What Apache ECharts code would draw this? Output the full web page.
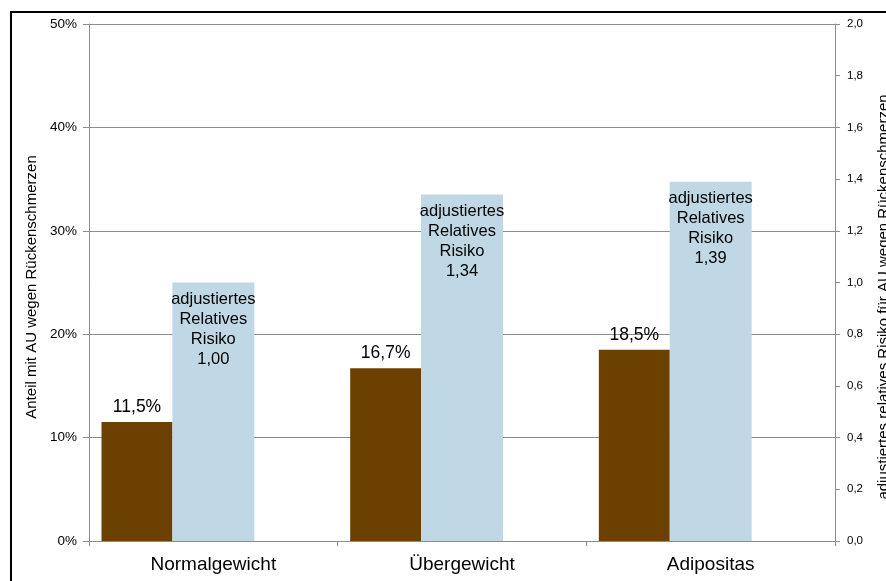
<!DOCTYPE html>
<html>
<head>
<meta charset="utf-8">
<script src="https://cdn.jsdelivr.net/npm/echarts@6/dist/echarts.min.js"></script>
<style>
  html, body { margin: 0; padding: 0; background: #fff; overflow: hidden; }
  .frame {
    position: absolute; left: 10px; top: 11px;
    width: 900px; height: 600px;
    border: 2px solid #000;
  }
  #main { position: absolute; left: 0; top: 0; width: 886px; height: 581px; }
</style>
</head>
<body>
<div class="frame"></div>
<div id="main"></div>
<script>
var categories = ["Normalgewicht", "Übergewicht", "Adipositas"];
var anteil = [11.5, 16.7, 18.5];        // Anteil mit AU wegen Rückenschmerzen, %
var risiko = [1.0, 1.34, 1.39];         // adjustiertes relatives Risiko
var leftTicks = { min: 0, max: 50, interval: 10 };
var rightTicks = { min: 0, max: 2, interval: 0.2 };

var font = "'Liberation Sans', Arial, sans-serif";
var gray = "#8c8c8c";

function komma(v, d) {
  return v.toFixed(d).replace(".", ",");
}

var myChart = echarts.init(document.getElementById("main"));

var option = {
  animation: false,
  textStyle: { fontFamily: font },
  grid: { left: 89, right: 51, top: 24, bottom: 40, containLabel: false, outerBoundsMode: "none" },
  xAxis: [
    {
      type: "category",
      data: categories,
      axisLine: { lineStyle: { color: gray, width: 1 } },
      axisTick: { show: true, length: 5, lineStyle: { color: gray } },
      axisLabel: { color: "#000", fontSize: 19, margin: 14, fontFamily: font }
    },
    {
      type: "category",
      data: categories,
      show: false
    }
  ],
  yAxis: [
    {
      type: "value",
      min: leftTicks.min,
      max: leftTicks.max,
      interval: leftTicks.interval,
      name: "Anteil mit AU wegen Rückenschmerzen",
      nameLocation: "middle",
      nameRotate: 90,
      nameGap: 50,
      nameTextStyle: { color: "#000", fontSize: 15, fontFamily: font, padding: [0, 9, 0, 0] },
      axisLine: { show: true, lineStyle: { color: gray } },
      axisTick: { show: true, length: 6, lineStyle: { color: gray } },
      splitLine: { show: true, lineStyle: { color: gray, width: 1 } },
      axisLabel: {
        color: "#000", fontSize: 13.5, margin: 12, fontFamily: font,
        formatter: function (v) { return v + "%"; }
      }
    },
    {
      type: "value",
      position: "right",
      min: rightTicks.min,
      max: rightTicks.max,
      interval: rightTicks.interval,
      name: "adjustiertes relatives Risiko für AU wegen Rückenschmerzen",
      nameLocation: "middle",
      nameRotate: 90,
      nameGap: 41,
      nameTextStyle: { color: "#000", fontSize: 15, fontFamily: font, padding: [0, 29, 0, 0] },
      axisLine: { show: true, lineStyle: { color: gray } },
      axisTick: { show: true, length: 5, lineStyle: { color: gray } },
      splitLine: { show: false },
      axisLabel: {
        color: "#000", fontSize: 11.5, margin: 12, fontFamily: font,
        formatter: function (v) { return komma(v, 1); }
      }
    }
  ],
  series: [
    {
      name: "Anteil",
      type: "bar",
      xAxisIndex: 0,
      yAxisIndex: 0,
      data: anteil,
      barWidth: 71,
      barGap: "115%",
      itemStyle: { color: "#6b4000" },
      label: {
        show: true,
        position: "top",
        distance: 6,
        color: "#000",
        fontSize: 17.5,
        fontFamily: font,
        formatter: function (p) { return komma(p.value, 1) + "%"; }
      }
    },
    {
      // leerer Platzhalter, damit die braunen Balken links sitzen
      name: "platz",
      type: "bar",
      xAxisIndex: 0,
      yAxisIndex: 0,
      data: ["-", "-", "-"],
      barWidth: 71
    },
    {
      name: "Risiko",
      type: "bar",
      xAxisIndex: 1,
      yAxisIndex: 1,
      data: risiko,
      barWidth: 82,
      itemStyle: { color: "#c0d8e5" },
      label: {
        show: true,
        position: "insideTop",
        distance: 7,
        color: "#000",
        fontSize: 16.5,
        lineHeight: 20,
        fontFamily: font,
        align: "center",
        formatter: function (p) {
          return "adjustiertes\nRelatives\nRisiko\n" + komma(p.value, 2);
        }
      }
    }
  ]
};

myChart.setOption(option);
</script>
</body>
</html>
